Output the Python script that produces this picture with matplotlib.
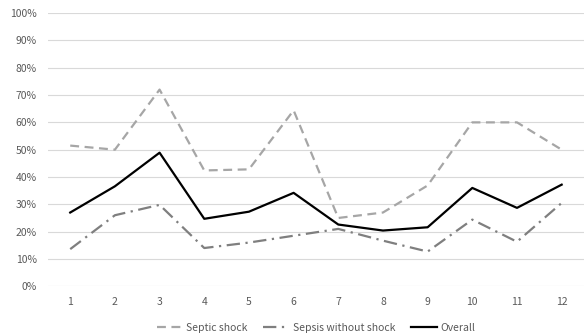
import matplotlib.pyplot as plt
from matplotlib.ticker import PercentFormatter

plt.rcParams['font.family'] = ['Noto Sans CJK KR', 'DejaVu Sans']

months = [1, 2, 3, 4, 5, 6, 7, 8, 9, 10, 11, 12]
septic_shock = [51.5, 50, 72, 42.4, 42.8, 64.4, 25, 27, 36.9, 60, 60, 50]
sepsis_no_shock = [13.6, 26, 29.8, 14, 16, 18.5, 21, 16.7, 12.7, 24.4, 16.3, 30.5]
overall = [27, 36.6, 48.9, 24.7, 27.3, 34.2, 22.6, 20.4, 21.6, 36, 28.7, 37.2]

fig = plt.figure(figsize=(5.84, 3.36), dpi=100)
ax = fig.add_axes([0.082, 0.148, 0.918, 0.813])

x = list(range(len(months)))
ax.plot(x, septic_shock, color='#a6a6a6', lw=1.6, linestyle=(0, (4, 2.5)), label='Septic shock')
ax.plot(x, sepsis_no_shock, color='#7f7f7f', lw=1.6, linestyle=(0, (6, 2.5, 1, 2.5)), label='Sepsis without shock')
ax.plot(x, overall, color='black', lw=1.6, label='Overall')

ax.set_xlim(-0.5, len(months) - 0.5)
ax.set_ylim(0, 100)
ax.set_yticks(range(0, 101, 10))
ax.yaxis.set_major_formatter(PercentFormatter(decimals=0))
ax.set_xticks(x, [str(m) for m in months])
ax.grid(axis='y', color='#d9d9d9', lw=0.8)
ax.set_axisbelow(True)
for s in ax.spines.values():
    s.set_visible(False)
ax.tick_params(length=0, labelsize=7.5, colors='#595959', pad=8)

ax.legend(loc='upper center', bbox_to_anchor=(0.5, -0.1), ncol=3, frameon=False,
          fontsize=7.5, labelcolor='#595959', handlelength=2.5, columnspacing=1.5, handletextpad=0.3)

fig.savefig('out.png', dpi=100)
